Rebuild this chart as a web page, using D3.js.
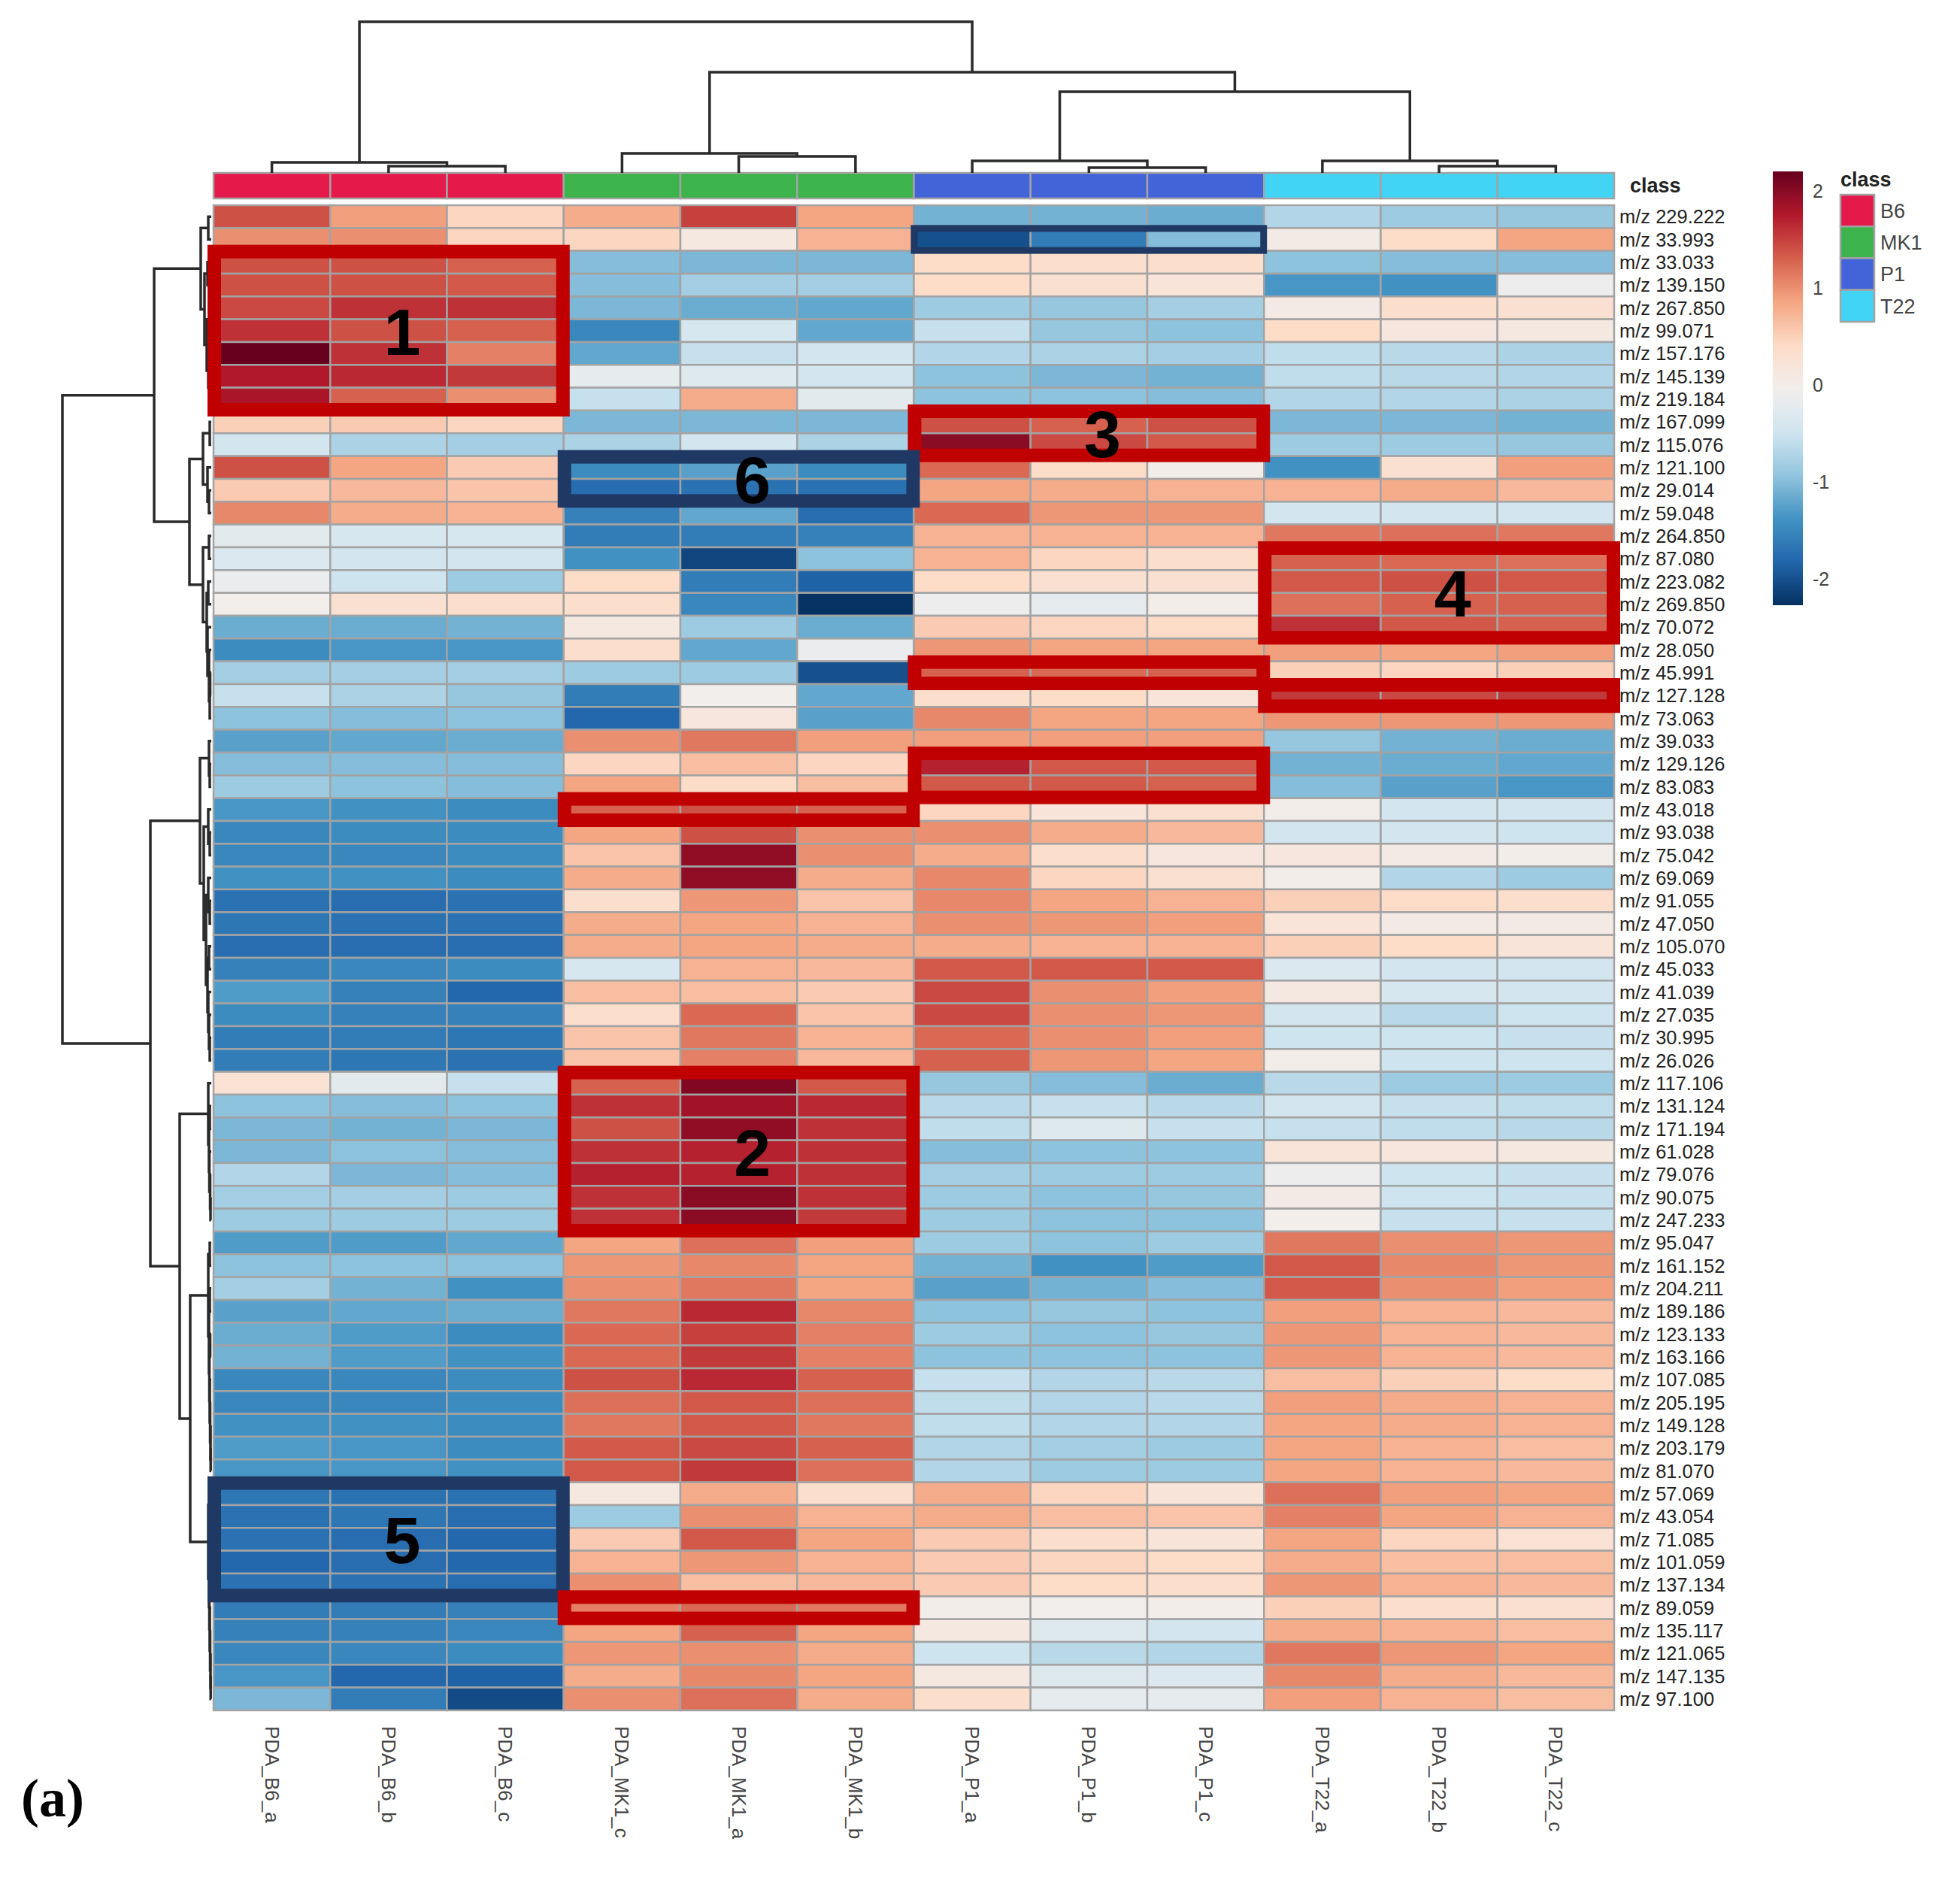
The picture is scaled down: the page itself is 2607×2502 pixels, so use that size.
<!DOCTYPE html>
<html>
<head>
<meta charset="utf-8">
<script src="https://cdn.jsdelivr.net/npm/d3@7"></script>
<style>
  body { margin: 0; background: #fff; }
  text { font-family: "Liberation Sans", Arial, sans-serif; }
</style>
</head>
<body>
<svg id="chart" width="2607" height="2502"></svg>
<script>
// samples in the order they are drawn (after clustering)
var samples = ["PDA_B6_a", "PDA_B6_b", "PDA_B6_c", "PDA_MK1_c", "PDA_MK1_a", "PDA_MK1_b",
  "PDA_P1_a", "PDA_P1_b", "PDA_P1_c", "PDA_T22_a", "PDA_T22_b", "PDA_T22_c"];
var sampleClass = ["B6", "B6", "B6", "MK1", "MK1", "MK1", "P1", "P1", "P1", "T22", "T22", "T22"];
var classNames = ["B6", "MK1", "P1", "T22"];
var classColors = ["#e6194B", "#3cb44b", "#4363d8", "#42d4f4"];

var features = ["m/z 229.222", "m/z 33.993", "m/z 33.033", "m/z 139.150", "m/z 267.850", "m/z 99.071",
  "m/z 157.176", "m/z 145.139", "m/z 219.184", "m/z 167.099", "m/z 115.076", "m/z 121.100",
  "m/z 29.014", "m/z 59.048", "m/z 264.850", "m/z 87.080", "m/z 223.082", "m/z 269.850",
  "m/z 70.072", "m/z 28.050", "m/z 45.991", "m/z 127.128", "m/z 73.063", "m/z 39.033",
  "m/z 129.126", "m/z 83.083", "m/z 43.018", "m/z 93.038", "m/z 75.042", "m/z 69.069",
  "m/z 91.055", "m/z 47.050", "m/z 105.070", "m/z 45.033", "m/z 41.039", "m/z 27.035",
  "m/z 30.995", "m/z 26.026", "m/z 117.106", "m/z 131.124", "m/z 171.194", "m/z 61.028",
  "m/z 79.076", "m/z 90.075", "m/z 247.233", "m/z 95.047", "m/z 161.152", "m/z 204.211",
  "m/z 189.186", "m/z 123.133", "m/z 163.166", "m/z 107.085", "m/z 205.195", "m/z 149.128",
  "m/z 203.179", "m/z 81.070", "m/z 57.069", "m/z 43.054", "m/z 71.085", "m/z 101.059",
  "m/z 137.134", "m/z 89.059", "m/z 135.117", "m/z 121.065", "m/z 147.135", "m/z 97.100"];

// scaled values, one triple per feature (replicates in drawn order)
var b6Values = [[1.4, 0.9, 0.45], [1.0, 1.0, 0.45], [1.4, 1.4, 1.3], [1.4, 1.4, 1.35], [1.45, 1.6, 1.6],
  [1.6, 1.4, 1.3], [2.2, 1.6, 1.1], [1.75, 1.65, 1.55], [1.8, 1.3, 1.0], [0.5, 0.55, 0.45],
  [-0.45, -0.75, -0.8], [1.4, 0.85, 0.55], [0.55, 0.7, 0.6], [1.05, 0.8, 0.75], [-0.25, -0.4, -0.4],
  [-0.35, -0.45, -0.45], [-0.15, -0.5, -0.85], [-0.05, 0.3, 0.35], [-1.15, -1.15, -1.1], [-1.45, -1.35, -1.35],
  [-0.8, -0.8, -0.8], [-0.55, -0.75, -0.9], [-0.95, -1.0, -0.95], [-1.25, -1.2, -1.15], [-1.0, -1.0, -1.0],
  [-0.85, -0.95, -1.0], [-1.35, -1.4, -1.45], [-1.5, -1.45, -1.45], [-1.5, -1.5, -1.45], [-1.4, -1.4, -1.45],
  [-1.7, -1.75, -1.7], [-1.65, -1.7, -1.7], [-1.75, -1.75, -1.75], [-1.55, -1.5, -1.45], [-1.3, -1.55, -1.8],
  [-1.45, -1.55, -1.55], [-1.6, -1.6, -1.65], [-1.6, -1.65, -1.7], [0.25, -0.25, -0.55], [-0.95, -1.0, -0.95],
  [-1.05, -1.1, -1.05], [-1.05, -0.95, -1.0], [-0.7, -1.05, -1.0], [-0.8, -0.8, -0.85], [-0.85, -0.85, -0.85],
  [-1.3, -1.3, -1.2], [-0.95, -0.95, -0.95], [-0.8, -1.1, -1.4], [-1.25, -1.2, -1.15], [-1.15, -1.3, -1.45],
  [-1.1, -1.3, -1.4], [-1.5, -1.5, -1.45], [-1.5, -1.5, -1.45], [-1.4, -1.4, -1.45], [-1.3, -1.35, -1.45],
  [-1.35, -1.35, -1.4], [-1.65, -1.7, -1.7], [-1.7, -1.65, -1.75], [-1.7, -1.75, -1.8], [-1.8, -1.75, -1.8],
  [-1.7, -1.7, -1.75], [-1.6, -1.6, -1.55], [-1.55, -1.55, -1.5], [-1.5, -1.5, -1.45], [-1.35, -1.8, -1.85],
  [-1.05, -1.6, -2.05]];

var mk1Values = [[0.8, 1.5, 0.85], [0.45, 0.1, 0.75], [-1.0, -1.05, -1.05], [-1.0, -0.8, -0.8], [-1.05, -1.15, -1.2],
  [-1.5, -0.4, -1.2], [-1.2, -0.55, -0.45], [-0.2, -0.3, -0.45], [-0.55, 0.8, -0.25], [-1.05, -1.05, -1.05],
  [-0.75, -0.45, -0.75], [-1.45, -1.25, -1.45], [-1.75, -1.7, -1.7], [-1.55, -1.2, -1.75], [-1.6, -1.6, -1.55],
  [-1.4, -2.1, -0.95], [0.4, -1.6, -1.85], [0.35, -1.5, -2.25], [0.1, -0.85, -1.15], [0.35, -1.2, -0.15],
  [-0.85, -0.85, -2.0], [-1.6, -0.05, -1.2], [-1.8, 0.15, -1.25], [1.0, 1.15, 0.9], [0.45, 0.65, 0.45],
  [0.85, 0.4, 0.65], [1.3, 1.4, 1.3], [0.85, 1.4, 1.0], [0.6, 1.95, 1.0], [0.8, 1.95, 0.8],
  [0.35, 0.95, 0.6], [0.8, 0.85, 0.75], [0.8, 0.85, 0.8], [-0.4, 0.75, 0.7], [0.65, 0.65, 0.55],
  [0.35, 1.25, 0.6], [0.6, 1.15, 0.75], [0.6, 1.1, 0.7], [1.3, 2.05, 1.35], [1.6, 1.85, 1.65],
  [1.4, 1.95, 1.6], [1.6, 1.7, 1.6], [1.7, 1.7, 1.6], [1.6, 2.0, 1.6], [1.6, 2.0, 1.55],
  [0.85, 1.2, 0.9], [0.95, 1.05, 0.85], [1.0, 1.15, 0.85], [1.15, 1.65, 1.05], [1.25, 1.5, 1.1],
  [1.25, 1.55, 1.1], [1.4, 1.65, 1.3], [1.2, 1.35, 1.2], [1.15, 1.35, 1.15], [1.35, 1.45, 1.3],
  [1.35, 1.55, 1.2], [0.1, 0.8, 0.35], [-0.85, 1.0, 0.75], [0.55, 1.35, 0.85], [0.75, 0.95, 0.75],
  [1.0, 0.65, 0.7], [1.1, 1.25, 1.15], [0.85, 1.3, 0.85], [0.95, 1.0, 0.8], [0.8, 1.05, 0.85],
  [1.0, 1.2, 0.8]];

var p1Values = [[-1.1, -1.1, -1.15], [-2.0, -1.6, -1.0], [0.4, 0.35, 0.35], [0.4, 0.3, 0.2], [-0.85, -0.9, -0.8],
  [-0.55, -0.9, -0.95], [-0.7, -0.75, -0.8], [-0.95, -1.05, -1.1], [-0.95, -0.95, -1.0], [1.4, 1.3, 1.4],
  [2.0, 1.45, 1.35], [1.25, 0.4, 0.0], [0.85, 0.8, 0.75], [1.25, 0.95, 0.95], [0.75, 0.75, 0.75],
  [0.75, 0.45, 0.35], [0.4, 0.3, 0.3], [-0.1, -0.2, 0.0], [0.55, 0.45, 0.4], [0.95, 0.85, 0.85],
  [1.3, 1.25, 1.3], [0.35, 0.4, 0.2], [1.05, 0.85, 0.85], [0.9, 0.9, 0.9], [1.7, 1.35, 1.35],
  [1.35, 1.35, 1.3], [0.45, 0.2, 0.3], [1.0, 0.8, 0.7], [0.8, 0.35, 0.15], [1.05, 0.45, 0.3],
  [1.05, 0.85, 0.75], [1.0, 0.95, 0.9], [0.8, 0.75, 0.75], [1.35, 1.35, 1.35], [1.45, 1.0, 0.9],
  [1.45, 1.0, 0.95], [1.25, 1.0, 0.9], [1.3, 0.95, 0.85], [-0.9, -1.0, -1.15], [-0.65, -0.55, -0.65],
  [-0.6, -0.3, -0.55], [-1.0, -0.95, -0.95], [-0.8, -0.85, -0.85], [-0.85, -0.95, -0.9], [-0.85, -0.95, -0.95],
  [-0.85, -0.95, -0.85], [-1.1, -1.4, -1.3], [-1.25, -1.1, -1.0], [-0.95, -0.9, -0.95], [-0.85, -0.95, -0.9],
  [-0.95, -0.95, -0.95], [-0.55, -0.7, -0.65], [-0.6, -0.7, -0.65], [-0.6, -0.7, -0.7], [-0.7, -0.8, -0.85],
  [-0.7, -0.85, -0.85], [0.8, 0.45, 0.2], [0.8, 0.65, 0.6], [0.55, 0.35, 0.2], [0.55, 0.45, 0.4],
  [0.55, 0.4, 0.35], [0.0, -0.05, 0.0], [0.1, -0.3, -0.45], [-0.5, -0.65, -0.7], [0.1, -0.3, -0.35],
  [0.35, -0.2, -0.2]];

var t22Values = [[-0.7, -0.85, -0.9], [0.05, 0.4, 0.85], [-0.95, -1.0, -1.0], [-1.35, -1.4, -0.1], [0.05, 0.35, 0.3],
  [0.4, 0.15, 0.1], [-0.6, -0.65, -0.75], [-0.6, -0.65, -0.7], [-0.7, -0.7, -0.75], [-1.05, -1.05, -1.1],
  [-0.85, -0.85, -0.9], [-1.4, 0.3, 0.9], [0.75, 0.8, 0.7], [-0.45, -0.45, -0.45], [1.15, 1.2, 1.15],
  [1.3, 1.25, 1.2], [1.35, 1.4, 1.35], [1.2, 1.3, 1.3], [1.6, 1.35, 1.3], [0.9, 0.85, 0.9],
  [0.5, 0.45, 0.5], [1.55, 1.45, 1.55], [0.95, 0.95, 0.95], [-0.9, -1.1, -1.15], [-1.1, -1.15, -1.2],
  [-1.0, -1.25, -1.35], [0.0, -0.45, -0.45], [-0.45, -0.45, -0.5], [0.15, 0.05, 0.0], [0.0, -0.7, -0.85],
  [0.5, 0.4, 0.35], [0.2, 0.05, 0.05], [0.5, 0.4, 0.2], [-0.35, -0.45, -0.45], [0.1, -0.4, -0.45],
  [-0.45, -0.65, -0.5], [-0.5, -0.5, -0.55], [0.0, -0.5, -0.5], [-0.65, -0.85, -0.85], [-0.45, -0.55, -0.6],
  [-0.55, -0.6, -0.65], [0.2, 0.15, 0.1], [-0.1, -0.5, -0.55], [0.05, -0.5, -0.55], [-0.05, -0.55, -0.55],
  [1.15, 1.0, 0.95], [1.35, 1.05, 0.95], [1.35, 1.0, 0.9], [0.9, 0.75, 0.7], [0.95, 0.75, 0.7],
  [0.95, 0.75, 0.7], [0.65, 0.5, 0.4], [0.9, 0.8, 0.75], [0.85, 0.8, 0.75], [0.85, 0.75, 0.65],
  [0.85, 0.75, 0.7], [1.2, 0.9, 0.85], [1.1, 0.85, 0.75], [0.85, 0.45, 0.25], [0.8, 0.65, 0.65],
  [0.95, 0.75, 0.7], [0.5, 0.35, 0.3], [0.8, 0.75, 0.65], [1.15, 0.95, 0.85], [1.05, 0.8, 0.7],
  [0.9, 0.75, 0.65]];

// colour key
var keyMin = -2.27, keyMax = 2.2;
var keyTicks = [2, 1, 0, -1, -2];
var rampColors = ["#053061", "#2166AC", "#4393C3", "#92C5DE", "#D1E5F0", "#F2EEEC",
  "#FDDBC7", "#F4A582", "#D6604D", "#B2182B", "#67001F"];

// dendrograms: [height, left, right], leaves are indices
var colTree = [201, [14, 0, [9, 1, 2]],
  [134, [26, 3, [22, 4, 5]], [108, [16, 6, [7, 7, 8]], [16, 9, [9, 10, 11]]]]];

var rowTree = [198,
  [76,
    [14, [4, 0, 1], [9, [5, 2, 3], [6, [3, 4, 5], [4, 6, [2, 7, 8]]]]],
    [29,
      [11, [2, 9, 10], [5, 11, [3, 12, 13]]],
      [11, [3, 14, 15], [6, [4, 16, 17], [5, 18, [3, 19, [2, [1.5, 20, 21], 22]]]]]]],
  [81,
    [15,
      [3, 23, [2, 24, 25]],
      [10, [4, 26, [2, 27, 28]], [7, [4, 29, [2, 30, 31]], [5, [3, 32, 33], [4, 34, [3, 35, [2, 36, 37]]]]]]],
    [42,
      [4, 38, [3, [2, 39, 40], [2.5, 41, [1.5, 42, [1, 43, 44]]]]],
      [28,
        [4, [2, 45, 46], [3, [2, 47, 48], [2.5, [1.5, 49, 50], [2, 51, [1.5, 52, [1, 53, [0.8, 54, 55]]]]]]],
        [4, [2, 56, 57], [3, [2, 58, 59], [2.5, 60, [2, 61, [1.5, 62, [1, 63, [0.8, 64, 65]]]]]]]]]]];

// highlight boxes drawn over the heatmap: rows r0..r1, columns c0..c1
var boxRows = [[2, 8], [1, 1], [9, 10], [11, 12], [15, 18], [20, 20], [21, 21], [24, 25], [26, 26], [38, 44], [56, 60], [61, 61]];
var boxCols = [[0, 2], [6, 8], [6, 8], [3, 5], [9, 11], [6, 8], [9, 11], [6, 8], [3, 5], [3, 5], [0, 2], [3, 5]];
var boxKind = ["up", "down", "up", "down", "up", "up", "up", "up", "up", "up", "down", "up"];
var boxLabels = ["1", "", "3", "6", "4", "", "", "", "", "2", "5", ""];

var svg = d3.select("#chart");

// Gather matrix in drawn column order
var groups = [b6Values, mk1Values, p1Values, t22Values];
var cells = [];
features.forEach(function (f, r) {
  groups.forEach(function (g, gi) {
    g[r].forEach(function (v, k) {
      cells.push({ row: r, col: gi * 3 + k, value: v });
    });
  });
});

var x = d3.scaleBand().domain(d3.range(samples.length)).range([284, 2147]);
var y = d3.scaleBand().domain(d3.range(features.length)).range([273, 2275]);

var color = d3.scaleLinear()
  .domain(rampColors.map(function (c, i) { return keyMin + i * (keyMax - keyMin) / (rampColors.length - 1); }))
  .range(rampColors)
  .interpolate(d3.interpolateRgb);

// Heatmap cells
svg.append("g").selectAll("rect")
  .data(cells)
  .enter().append("rect")
  .attr("x", function (d) { return x(d.col); })
  .attr("y", function (d) { return y(d.row); })
  .attr("width", x.bandwidth())
  .attr("height", y.bandwidth())
  .attr("fill", function (d) { return color(d.value); })
  .attr("stroke", "#a3a3a3")
  .attr("stroke-width", 2.5);

// Annotation bar
var annoTop = 230, annoH = 34;
svg.append("g").selectAll("rect")
  .data(sampleClass)
  .enter().append("rect")
  .attr("x", function (d, i) { return x(i); })
  .attr("y", annoTop)
  .attr("width", x.bandwidth())
  .attr("height", annoH)
  .attr("fill", function (d) { return classColors[classNames.indexOf(d)]; })
  .attr("stroke", "#a3a3a3")
  .attr("stroke-width", 2.5);

svg.append("text")
  .attr("x", 2168).attr("y", annoTop + annoH / 2 + 9)
  .attr("font-size", 27).attr("font-weight", "bold").attr("fill", "#222")
  .text("class");

// Dendrograms
function drawTree(g, tree, leafPos, hScale, vertical) {
  function walk(node) {
    if (typeof node === "number") return { p: leafPos(node), h: 0 };
    var a = walk(node[1]), b = walk(node[2]);
    var h = node[0];
    var pt = function (p, hh) { return vertical ? [p, hScale(hh)] : [hScale(hh), p]; };
    var path = d3.path();
    var s = pt(a.p, a.h), c1 = pt(a.p, h), c2 = pt(b.p, h), e = pt(b.p, b.h);
    path.moveTo(s[0], s[1]); path.lineTo(c1[0], c1[1]); path.lineTo(c2[0], c2[1]); path.lineTo(e[0], e[1]);
    g.append("path").attr("d", path.toString());
    return { p: (a.p + b.p) / 2, h: h };
  }
  walk(tree);
}

var colDendro = svg.append("g").attr("fill", "none").attr("stroke", "#2a2a2a").attr("stroke-width", 3.5);
drawTree(colDendro, colTree, function (i) { return x(i) + x.bandwidth() / 2; },
  d3.scaleLinear().domain([0, 201]).range([annoTop, 29]), true);

var rowDendro = svg.append("g").attr("fill", "none").attr("stroke", "#2a2a2a").attr("stroke-width", 3.5);
drawTree(rowDendro, rowTree, function (i) { return y(i) + y.bandwidth() / 2; },
  d3.scaleLinear().domain([0, 198]).range([281, 83]), false);

// Row labels
svg.append("g").selectAll("text")
  .data(features)
  .enter().append("text")
  .attr("x", 2154)
  .attr("y", function (d, i) { return y(i) + y.bandwidth() / 2; })
  .attr("dy", "0.36em")
  .attr("font-size", 25.5)
  .attr("fill", "#222")
  .text(function (d) { return d; });

// Column labels
svg.append("g").selectAll("text")
  .data(samples)
  .enter().append("text")
  .attr("transform", function (d, i) { return "translate(" + (x(i) + x.bandwidth() / 2) + ",2296) rotate(90)"; })
  .attr("dy", "0.35em")
  .attr("font-size", 26)
  .attr("fill", "#444")
  .text(function (d) { return d; });

// Highlight boxes
var boxG = svg.append("g");
boxRows.forEach(function (rr, i) {
  var thin = boxKind[i] === "down" && rr[0] === rr[1];
  var sw = thin ? 9 : 18, pad = thin ? 4 : 8;
  var x0 = x(boxCols[i][0]) - pad, x1 = x(boxCols[i][1]) + x.bandwidth() + pad;
  var y0 = y(rr[0]) - pad, y1 = y(rr[1]) + y.bandwidth() + pad;
  boxG.append("rect")
    .attr("x", x0 + sw / 2).attr("y", y0 + sw / 2)
    .attr("width", x1 - x0 - sw).attr("height", y1 - y0 - sw)
    .attr("fill", "none")
    .attr("stroke", boxKind[i] === "up" ? "#c00000" : "#1f3864")
    .attr("stroke-width", sw);
  if (boxLabels[i]) {
    boxG.append("text")
      .attr("x", (x0 + x1) / 2 + 18).attr("y", (y0 + y1) / 2)
      .attr("dy", "0.36em")
      .attr("text-anchor", "middle")
      .attr("font-size", 88).attr("font-weight", "bold").attr("fill", "#000")
      .text(boxLabels[i]);
  }
});

// Colour key
var keyY = d3.scaleLinear().domain([keyMin, keyMax]).range([805, 228]);
var grad = svg.append("defs").append("linearGradient")
  .attr("id", "keyGrad").attr("x1", 0).attr("x2", 0).attr("y1", 1).attr("y2", 0);
grad.selectAll("stop")
  .data(color.domain())
  .enter().append("stop")
  .attr("offset", function (d) { return (d - keyMin) / (keyMax - keyMin); })
  .attr("stop-color", function (d) { return color(d); });

svg.append("rect")
  .attr("x", 2358).attr("y", keyY(keyMax))
  .attr("width", 40).attr("height", keyY(keyMin) - keyY(keyMax))
  .attr("fill", "url(#keyGrad)");

svg.append("g").selectAll("text")
  .data(keyTicks)
  .enter().append("text")
  .attr("x", 2411)
  .attr("y", function (d) { return keyY(d); })
  .attr("dy", "0.36em")
  .attr("font-size", 25)
  .attr("fill", "#444")
  .text(function (d) { return d; });

// Class legend
svg.append("text")
  .attr("x", 2448).attr("y", 248)
  .attr("font-size", 27).attr("font-weight", "bold").attr("fill", "#222")
  .text("class");

var legY = d3.scaleBand().domain(classNames).range([259, 428]);
svg.append("g").selectAll("rect")
  .data(classNames)
  .enter().append("rect")
  .attr("x", 2448).attr("y", function (d) { return legY(d); })
  .attr("width", 45).attr("height", legY.bandwidth())
  .attr("fill", function (d, i) { return classColors[i]; })
  .attr("stroke", "#a3a3a3").attr("stroke-width", 2.5);

svg.append("g").selectAll("text")
  .data(classNames)
  .enter().append("text")
  .attr("x", 2501)
  .attr("y", function (d) { return legY(d) + legY.bandwidth() / 2; })
  .attr("dy", "0.36em")
  .attr("font-size", 27)
  .attr("fill", "#444")
  .text(function (d) { return d; });

// Panel letter
svg.append("text")
  .attr("x", 28).attr("y", 2416)
  .style("font-family", "'Liberation Serif', 'DejaVu Serif', serif")
  .attr("font-size", 72).attr("font-weight", "bold").attr("fill", "#000")
  .text("(a)");
</script>
</body>
</html>
